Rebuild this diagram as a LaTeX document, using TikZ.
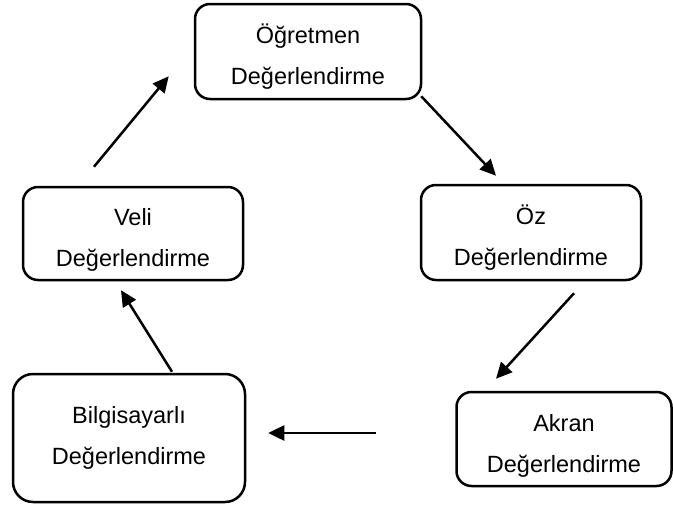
\documentclass[tikz,border=0pt]{standalone}
\usepackage{fontspec}
\setmainfont{Liberation Sans}
\usetikzlibrary{arrows.meta,calc}

% invisible strut giving the first line a little extra headroom
\newcommand\boxtopstrut{\rule{0pt}{30pt}}

\tikzset{
  stagebox/.style={draw=black, line width=2.5pt, rounded corners=15pt,
    align=center, inner sep=0pt,
    font=\fontsize{23.5}{41}\selectfont},
  flowarrow/.style={line width=2.5pt,
    -{Triangle[length=16pt,width=15pt]}},
}

\begin{document}
\begin{tikzpicture}[x=1pt, y=-1pt]
  % page frame
  \useasboundingbox (0,0) rectangle (673,506);

  % assessment stages
  \node[stagebox, minimum width=226pt, minimum height=95pt]
    (ogr) at (308,51.5) {\boxtopstrut Öğretmen\\Değerlendirme};
  \node[stagebox, minimum width=220pt, minimum height=95pt]
    (oz) at (531,232.5) {\boxtopstrut Öz\\Değerlendirme};
  \node[stagebox, minimum width=215pt, minimum height=94pt]
    (akran) at (564,439) {\boxtopstrut Akran\\Değerlendirme};
  \node[stagebox, rounded corners=20pt, minimum width=232pt, minimum height=128pt]
    (bilg) at (129,438) {Bilgisayarlı\\Değerlendirme};
  \node[stagebox, minimum width=220pt, minimum height=93pt]
    (veli) at (133,233.5) {\boxtopstrut Veli\\Değerlendirme};

  % cycle of arrows
  \draw[flowarrow] ($(veli.north)+(-39,-19)$) -- ($(ogr.south west)+(-25,-24)$);
  \draw[flowarrow] ($(ogr.south east)+(-1,-4)$) -- ($(oz.north)+(-35,-8)$);
  \draw[flowarrow] ($(oz.south)+(43,12)$) -- ($(akran.north)+(-68,-12)$);
  \draw[flowarrow] ($(akran.west)+(-79,-6)$) -- ($(bilg.east)+(22,-5)$);
  \draw[flowarrow] ($(bilg.north)+(43,-1)$) -- ($(veli.south)+(-12,9)$);
\end{tikzpicture}
\end{document}
